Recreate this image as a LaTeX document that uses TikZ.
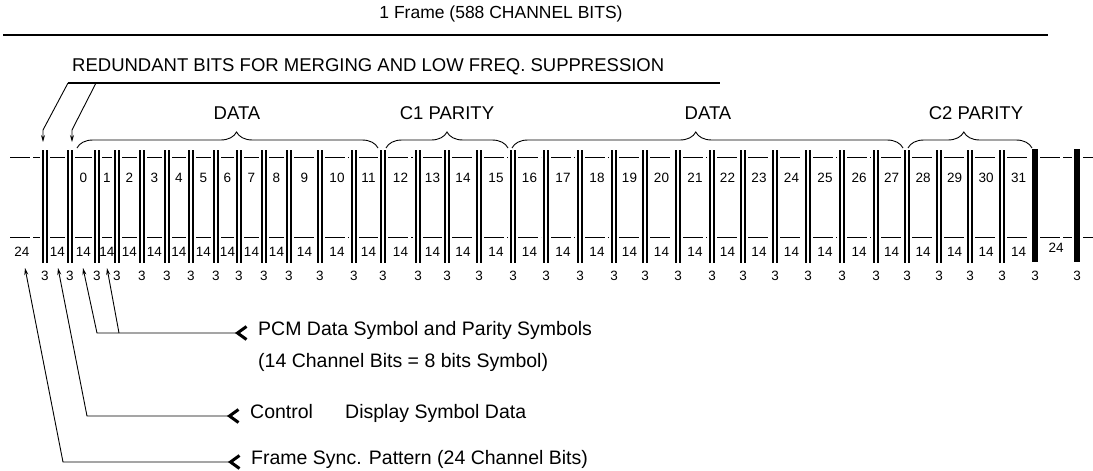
\documentclass[tikz,border=0pt]{standalone}
\usepackage{fontspec}
\setmainfont{Liberation Sans}
\usetikzlibrary{arrows.meta,decorations.pathreplacing}

% bar positions (x) of the 3-bit merging gaps
\def\barpos{{45,70,97,117,142,167,191,216,239,264,289,320,354,383,418,447,479,513,546,580,614,645,678,712,743,775,808,842,876,907,939,970,1002,1035,1077}}

\begin{document}
\begin{tikzpicture}[
    x=1pt, y=-1pt,
    every node/.style={inner sep=0pt, font=\fontsize{13.5}{15}\selectfont},
    bigtext/.style={font=\fontsize{17.5}{20}\selectfont},
    headtext/.style={font=\fontsize{18.5}{21}\selectfont},
    legend/.style={font=\fontsize{19.5}{22}\selectfont, anchor=mid west},
    rule/.style={line width=1.7pt},
    leader/.style={line width=0.9pt},
    upleader/.style={leader, {Stealth[length=7pt,width=4pt]}-},
    downleader/.style={leader, -{Stealth[length=7pt,width=4pt]}},
    tagleader/.style={leader, {Stealth[length=7pt,width=4pt]}-{Straight Barb[reversed,length=9pt,width=13pt,line width=3pt]}, shorten >=10pt},
    brc/.style={decorate, decoration={brace, amplitude=16pt, aspect=#1}, line width=0.9pt},
    barline/.style={line width=2.4pt},
    level/.style={line width=1pt, dash pattern=on 20pt off 3pt}
]
    \useasboundingbox (0,0) rectangle (1093,471);

    % --- TOP RULES ---
    \node[bigtext] (frame) at (501,14) {1 Frame (588 CHANNEL BITS)};
    \coordinate (frameL) at (3,35);
    \coordinate (frameR) at (1048,35);
    \draw[rule] (frameL) -- (frameR);

    \node[headtext, anchor=west] (redund) at (72,67) {REDUNDANT BITS FOR MERGING AND LOW FREQ. SUPPRESSION};
    \coordinate (redL) at (68,83);
    \coordinate (redM) at (96,83);
    \coordinate (redR) at (720,83);
    \draw[rule] (redL) -- (redR);

    % arrows down to the first two merging gaps
    \coordinate (redAk) at (43,130);
    \coordinate (redAe) at (43,142);
    \coordinate (redBk) at (72,130);
    \coordinate (redBe) at (72,142);
    \draw[downleader] (redL) -- (redAk) -- (redAe);
    \draw[downleader] (redM) -- (redBk) -- (redBe);

    % --- BRACES ---
    \draw[brc=0.53] (77,148) -- (378,148);
    \draw[brc=0.5]  (386,148) -- (508,148);
    \draw[brc=0.47] (512,148) -- (903,148);
    \draw[brc=0.45] (908,148) -- (1032,148);

    \node[headtext] (data1) at (237,113) {DATA};
    \node[headtext] (c1) at (447,113) {C1 PARITY};
    \node[headtext] (data2) at (708,113) {DATA};
    \node[headtext] (c2) at (976,113) {C2 PARITY};

    % --- CHANNEL BIT ROW ---
    % sync pattern at the left
    \draw[level] (10,157) -- (40,157);
    \draw[level] (10,237) -- (40,237);
    \node (seg24a) at (22,252) {24};

    % symbols between the bars
    \foreach \i in {0,...,33} {
        \pgfmathsetmacro{\xa}{\barpos[\i]}
        \pgfmathsetmacro{\xb}{\barpos[\i+1]}
        \draw[level] (\xa+5,157) -- (\xb-5,157);
        \draw[level] (\xa+5,237) -- (\xb-5,237);
        \ifnum\i=33
            \node (seg\i) at ({(\xa+\xb)/2},248) {24};
        \else
            \node (seg\i) at ({(\xa+\xb)/2},252) {14};
        \fi
        \ifnum\i>0 \ifnum\i<33
            \pgfmathtruncatemacro{\sym}{\i-1}
            \node (sym\sym) at ({(\xa+\xb)/2},178) {\sym};
        \fi\fi
    }
    \draw[level] (1083,157) -- (1093,157);
    \draw[level] (1083,237) -- (1093,237);

    % the merging bars and their 3 bits
    \foreach \i in {0,...,34} {
        \pgfmathsetmacro{\xa}{\barpos[\i]}
        \ifnum\i>32
            \draw[line width=6.5pt] (\xa,149) -- (\xa,262);
        \else
            \draw[barline] (\xa-2.2,150) -- (\xa-2.2,263);
            \draw[barline] (\xa+2.2,150) -- (\xa+2.2,263);
        \fi
        \node (three\i) at (\xa,276) {3};
    }

    % --- LEGEND ---
    \coordinate (pcmTip) at (83,268);
    \coordinate (pcmBend) at (97,333);
    \coordinate (pcmTipB) at (107,268);
    \coordinate (pcmJoin) at (119,333);
    \node[legend] (pcm) at (258,333) {PCM Data Symbol and Parity Symbols};
    \node[legend] (pcmnote) at (258,365) {(14 Channel Bits = 8 bits Symbol)};
    \draw[tagleader] (pcmTip) -- (pcmBend) -- (pcm.mid west);
    \draw[upleader] (pcmTipB) -- (pcmJoin);

    \coordinate (ctlTip) at (58,268);
    \coordinate (ctlBend) at (87,416);
    \node[legend] (ctl) at (250,416) {Control};
    \node[legend] (disp) at (345,416) {Display Symbol Data};
    \draw[tagleader] (ctlTip) -- (ctlBend) -- (ctl.mid west);

    \coordinate (syncTip) at (25,268);
    \coordinate (syncBend) at (63,462);
    \node[legend] (sync) at (251,462) {Frame Sync. Pattern (24 Channel Bits)};
    \draw[tagleader] (syncTip) -- (syncBend) -- (sync.mid west);

\end{tikzpicture}
\end{document}
